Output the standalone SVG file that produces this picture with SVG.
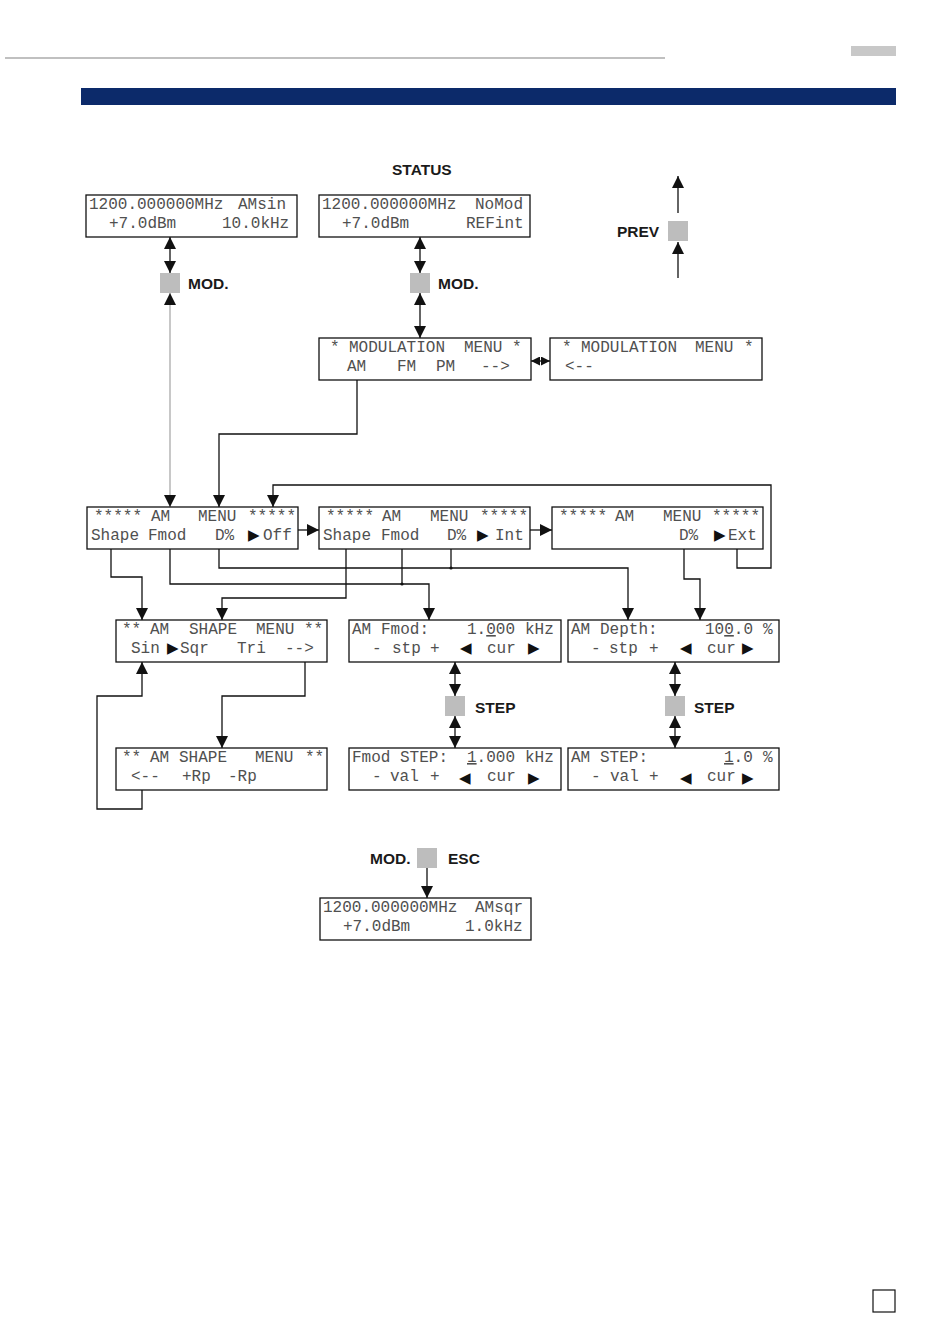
<svg xmlns="http://www.w3.org/2000/svg" width="950" height="1344" viewBox="0 0 950 1344">
<style>
.box{fill:#fff;stroke:#111;stroke-width:1.3}
.lcd{font-family:"Liberation Mono","Courier New",monospace;font-size:16px;fill:#505050}
.tri{font-family:"DejaVu Sans",sans-serif;font-size:15px;fill:#111}
.lbl{font-family:"Liberation Sans",Arial,sans-serif;font-weight:bold;font-size:15.5px;fill:#1a1a1a}
.key{fill:#bdbdbd}
.c{fill:none;stroke:#111;stroke-width:1.3}
.g{fill:none;stroke:#aaa;stroke-width:1.3}
.u{text-decoration:underline}
</style>
<defs>
<marker id="ah" markerUnits="userSpaceOnUse" markerWidth="12" markerHeight="12" viewBox="0 0 12 12" refX="12" refY="6" orient="auto-start-reverse"><path d="M0,0 L12,6 L0,12 z" fill="#111"/></marker>
<marker id="as" markerUnits="userSpaceOnUse" markerWidth="9" markerHeight="9" viewBox="0 0 9 9" refX="9" refY="4.5" orient="auto-start-reverse"><path d="M0,0 L9,4.5 L0,9 z" fill="#111"/></marker>
</defs>

<g id="header">
<line x1="5" y1="58" x2="665" y2="58" stroke="#c0c0c0" stroke-width="2"/>
<rect x="851" y="46" width="45" height="10" fill="#c8c8c8"/>
<rect x="81" y="88" width="815" height="17" fill="#0c2a6a"/>
<rect x="873" y="1290" width="22" height="22" fill="none" stroke="#111" stroke-width="1.2"/>
</g>

<g id="connectors">
<line class="c" x1="170" y1="237" x2="170" y2="273" marker-start="url(#ah)" marker-end="url(#ah)"/>
<line class="g" x1="170" y1="293" x2="170" y2="507" marker-start="url(#ah)" marker-end="url(#ah)"/>
<line class="c" x1="420" y1="237" x2="420" y2="273" marker-start="url(#ah)" marker-end="url(#ah)"/>
<line class="c" x1="420" y1="293" x2="420" y2="338" marker-start="url(#ah)" marker-end="url(#ah)"/>
<line class="c" x1="531" y1="361" x2="550" y2="361" marker-start="url(#as)" marker-end="url(#as)"/>
<line class="c" x1="678" y1="213" x2="678" y2="176" marker-end="url(#ah)"/>
<line class="c" x1="678" y1="278" x2="678" y2="242" marker-end="url(#ah)"/>
<path class="c" d="M357,380 V434 H219 V507" marker-end="url(#ah)"/>
<path class="c" d="M737,549 V568 H771 V485 H273 V507" marker-end="url(#ah)"/>
<line class="c" x1="298" y1="530" x2="319" y2="530" marker-end="url(#ah)"/>
<line class="c" x1="530" y1="530" x2="552" y2="530" marker-end="url(#ah)"/>
<path class="c" d="M111,549 V577 H142 V620" marker-end="url(#ah)"/>
<path class="c" d="M170,549 V584 H429 V620" marker-end="url(#ah)"/>
<path class="c" d="M402,549 V584"/>
<path class="c" d="M219,549 V568 H628 V620" marker-end="url(#ah)"/>
<path class="c" d="M451,549 V568"/>
<path class="c" d="M346,549 V598 H222 V620" marker-end="url(#ah)"/>
<path class="c" d="M684,549 V579 H700 V620" marker-end="url(#ah)"/>
<circle cx="402" cy="584" r="1.6" fill="#111"/>
<circle cx="451" cy="568" r="1.6" fill="#111"/>
<path class="c" d="M305,662 V696 H222 V748" marker-end="url(#ah)"/>
<path class="c" d="M142,790 V809 H97 V696 H142 V662" marker-end="url(#ah)"/>
<line class="c" x1="455" y1="662" x2="455" y2="696" marker-start="url(#ah)" marker-end="url(#ah)"/>
<line class="c" x1="455" y1="716" x2="455" y2="748" marker-start="url(#ah)" marker-end="url(#ah)"/>
<line class="c" x1="675" y1="662" x2="675" y2="696" marker-start="url(#ah)" marker-end="url(#ah)"/>
<line class="c" x1="675" y1="716" x2="675" y2="748" marker-start="url(#ah)" marker-end="url(#ah)"/>
<line class="c" x1="427" y1="868" x2="427" y2="898" marker-end="url(#ah)"/>
</g>

<g id="keys">
<text class="lbl" x="392" y="175">STATUS</text>
<rect class="key" x="160" y="273" width="20" height="20"/>
<text class="lbl" x="188" y="289">MOD.</text>
<rect class="key" x="410" y="273" width="20" height="20"/>
<text class="lbl" x="438" y="289">MOD.</text>
<rect class="key" x="668" y="221" width="20" height="20"/>
<text class="lbl" x="617" y="237">PREV</text>
<rect class="key" x="445" y="696" width="20" height="20"/>
<text class="lbl" x="475" y="713">STEP</text>
<rect class="key" x="665" y="696" width="20" height="20"/>
<text class="lbl" x="694" y="713">STEP</text>
<rect class="key" x="417" y="848" width="20" height="20"/>
<text class="lbl" x="370" y="864">MOD.</text>
<text class="lbl" x="448" y="864">ESC</text>
</g>

<g id="status-amsin">
<rect class="box" x="86" y="195" width="211" height="42"/>
<text class="lcd" y="209"><tspan x="89">1200.000000MHz</tspan><tspan x="238">AMsin</tspan></text>
<text class="lcd" y="228"><tspan x="109">+7.0dBm</tspan><tspan x="222">10.0kHz</tspan></text>
</g>

<g id="status-nomod">
<rect class="box" x="319" y="195" width="211" height="42"/>
<text class="lcd" y="209"><tspan x="322">1200.000000MHz</tspan><tspan x="475">NoMod</tspan></text>
<text class="lcd" y="228"><tspan x="342">+7.0dBm</tspan><tspan x="466">REFint</tspan></text>
</g>

<g id="mod-menu-1">
<rect class="box" x="319" y="338" width="212" height="42"/>
<text class="lcd" y="352"><tspan x="330">*</tspan><tspan x="349">MODULATION</tspan><tspan x="464">MENU</tspan><tspan x="512">*</tspan></text>
<text class="lcd" y="371"><tspan x="347">AM</tspan><tspan x="397">FM</tspan><tspan x="436">PM</tspan><tspan x="481">--&gt;</tspan></text>
</g>

<g id="mod-menu-2">
<rect class="box" x="550" y="338" width="212" height="42"/>
<text class="lcd" y="352"><tspan x="562">*</tspan><tspan x="581">MODULATION</tspan><tspan x="695">MENU</tspan><tspan x="744">*</tspan></text>
<text class="lcd" y="371"><tspan x="565">&lt;--</tspan></text>
</g>

<g id="am-menu-off">
<rect class="box" x="87" y="507" width="211" height="42"/>
<text class="lcd" y="521"><tspan x="94">*****</tspan><tspan x="151">AM</tspan><tspan x="198">MENU</tspan><tspan x="248">*****</tspan></text>
<text class="lcd" y="540"><tspan x="91">Shape</tspan><tspan x="148">Fmod</tspan><tspan x="215">D%</tspan><tspan x="263">Off</tspan></text>
<text class="tri" x="248" y="540">▶</text>
</g>

<g id="am-menu-int">
<rect class="box" x="319" y="507" width="211" height="42"/>
<text class="lcd" y="521"><tspan x="326">*****</tspan><tspan x="382">AM</tspan><tspan x="430">MENU</tspan><tspan x="480">*****</tspan></text>
<text class="lcd" y="540"><tspan x="323">Shape</tspan><tspan x="381">Fmod</tspan><tspan x="447">D%</tspan><tspan x="495">Int</tspan></text>
<text class="tri" x="477" y="540">▶</text>
</g>

<g id="am-menu-ext">
<rect class="box" x="552" y="507" width="211" height="42"/>
<text class="lcd" y="521"><tspan x="559">*****</tspan><tspan x="615">AM</tspan><tspan x="663">MENU</tspan><tspan x="712">*****</tspan></text>
<text class="lcd" y="540"><tspan x="679">D%</tspan><tspan x="728">Ext</tspan></text>
<text class="tri" x="714" y="540">▶</text>
</g>

<g id="am-shape-menu-1">
<rect class="box" x="116" y="620" width="211" height="42"/>
<text class="lcd" y="634"><tspan x="122">**</tspan><tspan x="150">AM</tspan><tspan x="189">SHAPE</tspan><tspan x="256">MENU</tspan><tspan x="304">**</tspan></text>
<text class="lcd" y="653"><tspan x="131">Sin</tspan><tspan x="180">Sqr</tspan><tspan x="237">Tri</tspan><tspan x="285">--&gt;</tspan></text>
<text class="tri" x="167" y="653">▶</text>
</g>

<g id="am-shape-menu-2">
<rect class="box" x="116" y="748" width="211" height="42"/>
<text class="lcd" y="762"><tspan x="122">**</tspan><tspan x="150">AM</tspan><tspan x="179">SHAPE</tspan><tspan x="255">MENU</tspan><tspan x="305">**</tspan></text>
<text class="lcd" y="781"><tspan x="131">&lt;--</tspan><tspan x="182">+Rp</tspan><tspan x="228">-Rp</tspan></text>
</g>

<g id="am-fmod">
<rect class="box" x="349" y="620" width="212" height="42"/>
<text class="lcd" y="634"><tspan x="352">AM</tspan><tspan x="381">Fmod:</tspan><tspan x="467">1.</tspan><tspan class="u">0</tspan><tspan>00</tspan><tspan x="525">kHz</tspan></text>
<text class="lcd" y="653"><tspan x="372">-</tspan><tspan x="392">stp</tspan><tspan x="430">+</tspan><tspan x="487">cur</tspan></text>
<text class="tri" y="653"><tspan x="460">◀</tspan><tspan x="528">▶</tspan></text>
</g>

<g id="am-depth">
<rect class="box" x="568" y="620" width="211" height="42"/>
<text class="lcd" y="634"><tspan x="571">AM</tspan><tspan x="600">Depth:</tspan><tspan x="705">10</tspan><tspan class="u">0</tspan><tspan>.0</tspan><tspan x="763">%</tspan></text>
<text class="lcd" y="653"><tspan x="591">-</tspan><tspan x="609">stp</tspan><tspan x="649">+</tspan><tspan x="707">cur</tspan></text>
<text class="tri" y="653"><tspan x="680">◀</tspan><tspan x="742">▶</tspan></text>
</g>

<g id="fmod-step">
<rect class="box" x="349" y="748" width="212" height="42"/>
<text class="lcd" y="762"><tspan x="352">Fmod</tspan><tspan x="400">STEP:</tspan><tspan x="467" class="u">1</tspan><tspan>.000</tspan><tspan x="525">kHz</tspan></text>
<text class="lcd" y="781"><tspan x="372">-</tspan><tspan x="390">val</tspan><tspan x="430">+</tspan><tspan x="487">cur</tspan></text>
<text class="tri" y="783"><tspan x="459">◀</tspan><tspan x="528">▶</tspan></text>
</g>

<g id="am-step">
<rect class="box" x="568" y="748" width="211" height="42"/>
<text class="lcd" y="762"><tspan x="571">AM</tspan><tspan x="600">STEP:</tspan><tspan x="724" class="u">1</tspan><tspan>.0</tspan><tspan x="763">%</tspan></text>
<text class="lcd" y="781"><tspan x="591">-</tspan><tspan x="610">val</tspan><tspan x="649">+</tspan><tspan x="707">cur</tspan></text>
<text class="tri" y="783"><tspan x="680">◀</tspan><tspan x="742">▶</tspan></text>
</g>

<g id="status-amsqr">
<rect class="box" x="320" y="898" width="211" height="42"/>
<text class="lcd" y="912"><tspan x="323">1200.000000MHz</tspan><tspan x="475">AMsqr</tspan></text>
<text class="lcd" y="931"><tspan x="343">+7.0dBm</tspan><tspan x="465">1.0kHz</tspan></text>
</g>
</svg>
